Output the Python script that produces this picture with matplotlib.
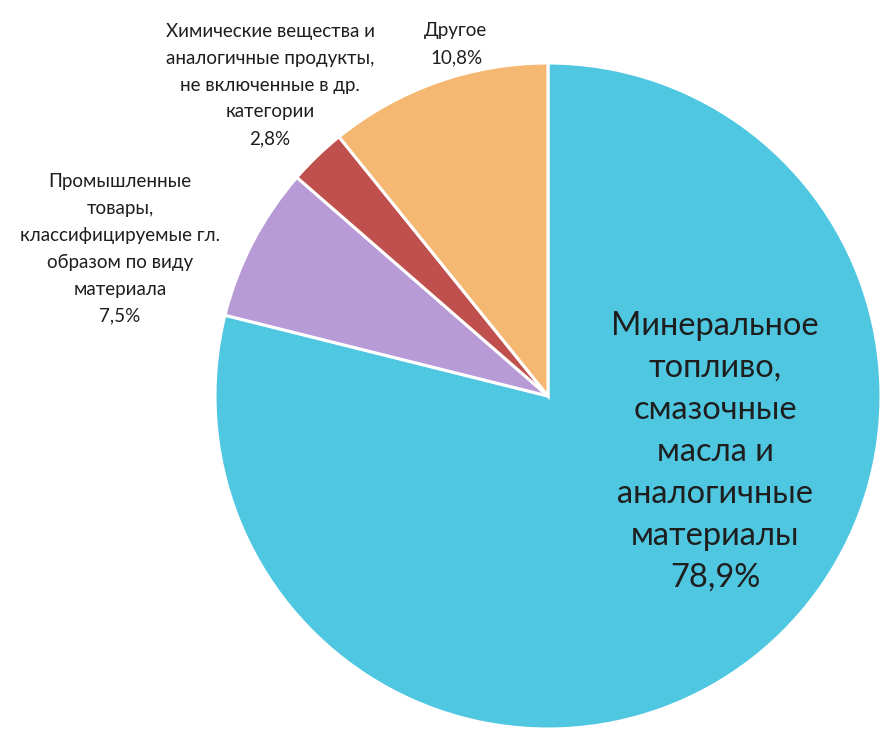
import matplotlib.pyplot as plt

plt.rcParams["font.family"] = ["Lato", "DejaVu Sans"]

categories = [
    "Минеральное\nтопливо,\nсмазочные\nмасла и\nаналогичные\nматериалы",
    "Промышленные\nтовары,\nклассифицируемые гл.\nобразом по виду\nматериала",
    "Химические вещества и\nаналогичные продукты,\nне включенные в др.\nкатегории",
    "Другое",
]
shares = [78.9, 7.5, 2.8, 10.8]
pct_labels = ["78,9%", "7,5%", "2,8%", "10,8%"]
colors = ["#4fc7e1", "#b89bd6", "#c0504d", "#f5b872"]

W, H = 886, 733
cx, cy, r = 548, 396, 333

fig = plt.figure(figsize=(W / 100, H / 100), dpi=100)
ax = fig.add_axes([0, 0, 1, 1])

ax.pie(
    shares,
    colors=colors,
    startangle=90,
    counterclock=False,
    radius=1.0,
    wedgeprops=dict(edgecolor="white", linewidth=2.2),
)
# pie() resets the limits, so set them afterwards
ax.set_xlim(-cx / r, (W - cx) / r)
ax.set_ylim(-(H - cy) / r, cy / r)
ax.axis("off")


def px(x, y):
    return (x - cx) / r, (cy - y) / r


# label positions in pixel space of the original picture
label_pos = [(715, 452), (120, 249), (270, 85), (456, 44)]
sizes = [23.5, 13.5, 13.5, 13.5]
spacing = [1.5, 1.7, 1.7, 1.7]
for cat, pct, pos, fs, ls in zip(categories, pct_labels, label_pos, sizes, spacing):
    x, y = px(*pos)
    ax.text(x, y, cat + "\n" + pct, ha="center", va="center", fontsize=fs,
            linespacing=ls, color="#1e1e1e")

fig.savefig("out.png", dpi=100)
